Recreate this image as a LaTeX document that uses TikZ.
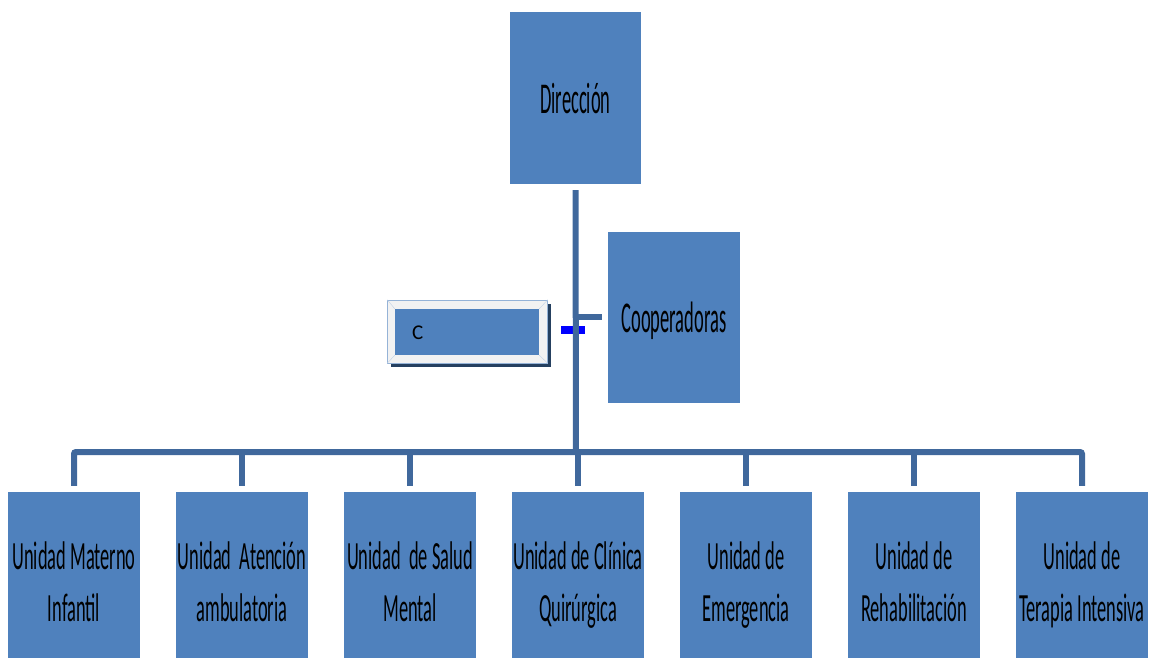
\documentclass[tikz,border=0pt]{standalone}
\usepackage{fontspec}
\setmainfont{Carlito}
\newfontfamily\cf[FakeStretch=0.46]{Carlito}
\newfontfamily\cft[FakeStretch=0.42]{Carlito}
\newcommand\topstrut{\rule{0pt}{48pt}}
\newcommand\botstrut{\rule[-8pt]{0pt}{8pt}}
\definecolor{boxblue}{RGB}{79,129,189}
\definecolor{linecol}{RGB}{64,104,156}
\definecolor{shadowcol}{RGB}{37,64,96}
\definecolor{framegray}{RGB}{242,242,242}
\definecolor{framelight}{RGB}{149,179,215}
\begin{document}
\begin{tikzpicture}[x=1pt,y=-1pt,
  box/.style={fill=boxblue, draw=none, inner sep=0pt, minimum width=132pt, align=center,
     font=\cf\fontsize{40}{52}\selectfont, text=black},
  topbox/.style={box, font=\cft\fontsize{44}{52}\selectfont, text height=31pt, text depth=0pt},
  conn/.style={draw=linecol, line width=6pt},
]
\useasboundingbox (0,0) rectangle (1149,657);
% top
\node[topbox, minimum width=131pt, minimum height=172pt] (dir) at (575.5,98) {Dirección};
\node[topbox, minimum height=171pt] (coop) at (674,317) {Cooperadoras};
% bottom units
\foreach \i/\t [count=\k] in {
  74/{\topstrut Unidad Materno\\Infantil\botstrut},
  242/{\topstrut Unidad\ \ Atención\\ambulatoria\botstrut},
  410/{\topstrut Unidad\ \ de Salud\\Mental\botstrut},
  578/{\topstrut Unidad de Clínica\\Quirúrgica\botstrut},
  746/{\topstrut Unidad de\\Emergencia\botstrut},
  914/{\topstrut Unidad de\\Rehabilitación\botstrut},
  1082/{\topstrut Unidad de\\Terapia Intensiva\botstrut}}{
  \node[box, minimum height=166pt] (u\k) at (\i,575) {\t};
}
% C box
\fill[shadowcol] (391,304) rectangle (551,367);
\node[fill=framegray, draw=framelight, line width=0.6pt, minimum width=160pt, minimum height=63pt, inner sep=0pt] (cframe) at (467.5,331.5) {};
\node[fill=boxblue, minimum width=144pt, minimum height=46pt, inner sep=0pt] (cin) at (467,332) {};
\draw[framelight!60, line width=0.4pt] (cframe.north west) -- (cin.north west)
  (cframe.north east) -- (cin.north east) (cframe.south west) -- (cin.south west)
  (cframe.south east) -- (cin.south east);
\node[anchor=west, inner sep=0pt, font=\fontsize{21}{24}\selectfont] (ctext) at (412,333) {C};
% connectors
\coordinate (bar) at (576,452);
\fill[blue] (561,326) rectangle (585,334);
\draw[conn] ([yshift=-6pt]dir.south) -- (bar);
\draw[conn] ([xshift=-6pt]coop.west) -- (coop.west -| bar);
\draw[conn, rounded corners=2pt] ([yshift=6pt]u1.north) |- (bar) -| ([yshift=6pt]u7.north);
\foreach \k in {2,...,6}{
  \draw[conn] ([yshift=6pt]u\k.north) -- (u\k.north |- bar);
}
\end{tikzpicture}
\end{document}
